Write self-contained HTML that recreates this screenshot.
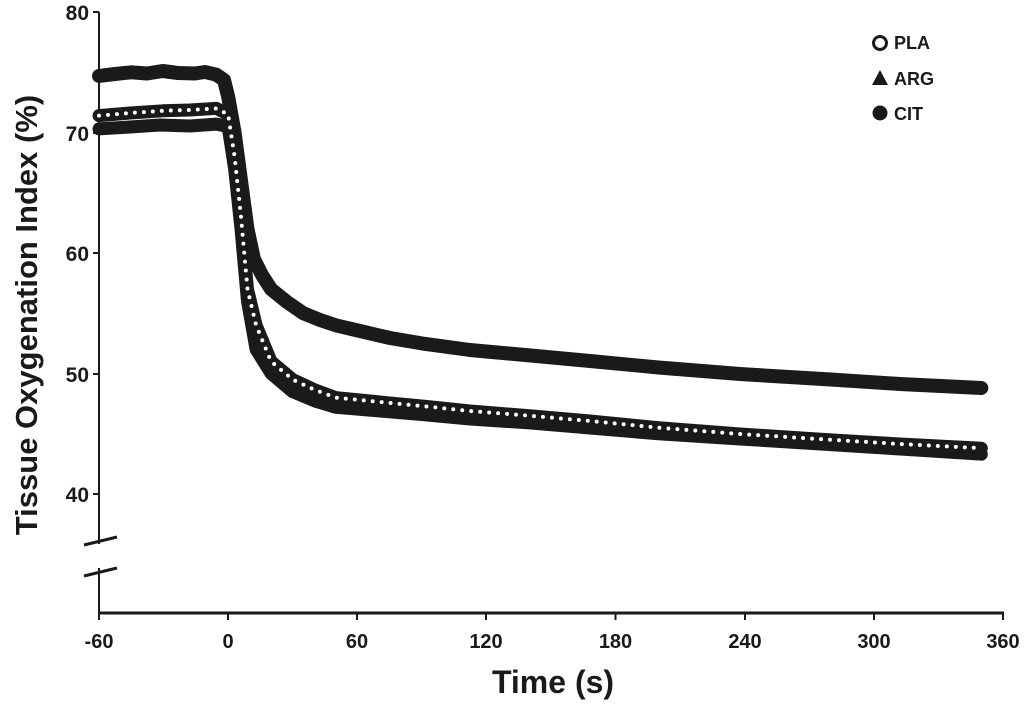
<!DOCTYPE html>
<html><head><meta charset="utf-8"><style>
body{margin:0;background:#fff;}
svg{display:block;font-family:"Liberation Sans",sans-serif;font-weight:bold;}
</style></head><body>
<svg width="1024" height="706" viewBox="0 0 1024 706" xmlns="http://www.w3.org/2000/svg">
<g stroke="#1a1a1a" stroke-width="2" fill="none">
<line x1="99" y1="12" x2="99" y2="613"/>
<line x1="98" y1="613" x2="1004" y2="613" stroke-width="3"/>
<line x1="93" y1="12" x2="99" y2="12"/><line x1="93" y1="133" x2="99" y2="133"/>
<line x1="93" y1="253" x2="99" y2="253"/><line x1="93" y1="374" x2="99" y2="374"/>
<line x1="93" y1="494" x2="99" y2="494"/>
<line x1="99" y1="613" x2="99" y2="620"/><line x1="228" y1="613" x2="228" y2="620"/>
<line x1="357" y1="613" x2="357" y2="620"/><line x1="486" y1="613" x2="486" y2="620"/>
<line x1="615.5" y1="613" x2="615.5" y2="620"/><line x1="745" y1="613" x2="745" y2="620"/>
<line x1="874" y1="613" x2="874" y2="620"/><line x1="1003" y1="613" x2="1003" y2="620"/>
</g>
<rect x="96" y="544" width="6" height="24" fill="#fff"/>
<g stroke="#1a1a1a" stroke-width="3">
<line x1="84" y1="545" x2="117" y2="537"/>
<line x1="84" y1="576" x2="117" y2="568"/>
</g>
<g fill="#1a1a1a" font-size="21" text-anchor="end">
<text x="89" y="20">80</text><text x="89" y="141">70</text><text x="89" y="261">60</text>
<text x="89" y="382">50</text><text x="89" y="502">40</text>
</g>
<g fill="#1a1a1a" font-size="20" text-anchor="middle">
<text x="99" y="648">-60</text><text x="228" y="648">0</text><text x="357" y="648">60</text>
<text x="486" y="648">120</text><text x="615.5" y="648">180</text><text x="745" y="648">240</text>
<text x="874" y="648">300</text><text x="1003" y="648">360</text>
</g>
<text x="553" y="693" font-size="32" text-anchor="middle" fill="#1a1a1a">Time (s)</text>
<text transform="translate(37,315) rotate(-90)" font-size="31" text-anchor="middle" fill="#1a1a1a">Tissue Oxygenation Index (%)</text>

<g fill="none" stroke-linecap="round" stroke-linejoin="round">
<!-- CIT -->
<path d="M99,75.9 L115,74 L131.3,72.3 L147,73.5 L162.7,71 L178,73 L194.9,73.5 L205,72 L216.4,74.7 L224,80 L228.1,96.4 L234.6,132.5 L241,180.7 L247.5,228.9 L253.9,259 L262,275 L271.1,289.2 L287,302 L303.4,313.3 L320,320 L335.7,325.3 L360,331 L390,338 L421.8,343.4 L470,350 L529.4,355.4 L590,361 L658.5,367.5 L740,374 L830.7,379.5 L900,384 L981.3,388" stroke="#1a1a1a" stroke-width="14"/>
<!-- ARG -->
<path d="M99,128.9 L130,127 L160,125 L190,126 L216.4,124.1 L228.1,126.5 L234.6,168.7 L241,228.9 L247.5,301.2 L256.1,349.4 L271.1,373.5 L292.6,391.6 L315,401 L335.7,407.3 L380,411 L421.8,414.5 L470,419 L529.4,422.9 L590,428 L658.5,433.8 L740,439 L830.7,444.6 L900,449 L981.3,454.2" stroke="#1a1a1a" stroke-width="13"/>
<!-- PLA -->
<path d="M99,115.6 L130,113 L162.7,110.8 L190,110 L216.4,108.4 L228.1,114.4 L234.6,156.6 L241,216.9 L247.5,289.2 L256.1,325.3 L271.1,361.5 L292.6,379.5 L315,390 L335.7,397.6 L380,402 L421.8,406 L470,411 L529.4,415.7 L590,421 L658.5,427.7 L740,434 L830.7,439.8 L900,444 L981.3,448.2" stroke="#1a1a1a" stroke-width="13"/>
<path d="M99,115.6 L130,113 L162.7,110.8 L190,110 L216.4,108.4 L228.1,114.4 L234.6,156.6 L241,216.9 L247.5,289.2 L256.1,325.3 L271.1,361.5 L292.6,379.5 L315,390 L335.7,397.6 L380,402 L421.8,406 L470,411 L529.4,415.7 L590,421 L658.5,427.7 L740,434 L830.7,439.8 L900,444 L981.3,448.2" stroke="#fff" stroke-width="4" stroke-dasharray="0 9"/>
</g>

<g font-size="18" fill="#1a1a1a">
<circle cx="880" cy="43" r="6.5" fill="#fff" stroke="#1a1a1a" stroke-width="3"/><text x="894" y="49">PLA</text>
<polygon points="880,70 888,85 872,85" fill="#1a1a1a"/><text x="894" y="85">ARG</text>
<circle cx="880" cy="113" r="7.5" fill="#1a1a1a"/><text x="894" y="120">CIT</text>
</g>
</svg>
</body></html>
